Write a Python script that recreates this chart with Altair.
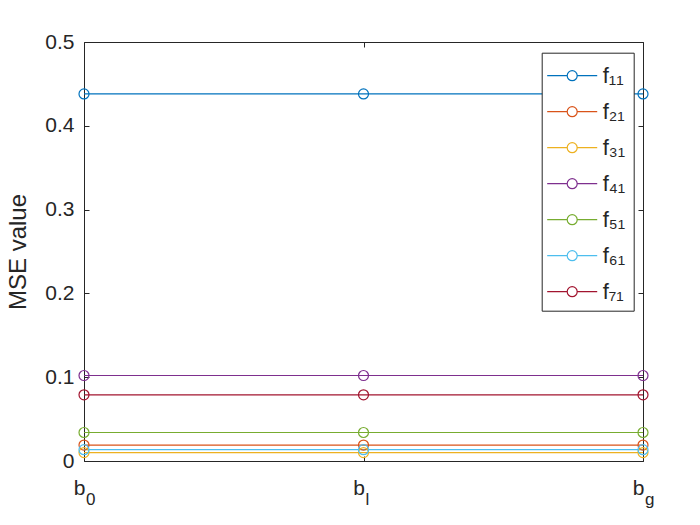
import altair as alt
import pandas as pd

# ---- data ----
categories = ["b0", "bl", "bg"]
cat_sub = ["0", "l", "g"]
series = ["f₁₁", "f₂₁", "f₃₁", "f₄₁", "f₅₁", "f₆₁", "f₇₁"]
colors = ["#0072BD", "#D95319", "#EDB120", "#7E2F8E", "#77AC30", "#4DBEEE", "#A2142F"]
f11 = [0.438, 0.438, 0.438]
f21 = [0.019, 0.019, 0.019]
f31 = [0.010, 0.010, 0.010]
f41 = [0.102, 0.102, 0.102]
f51 = [0.034, 0.034, 0.034]
f61 = [0.0135, 0.0135, 0.0135]
f71 = [0.079, 0.079, 0.079]
values = [f11, f21, f31, f41, f51, f61, f71]
y_ticks = [0, 0.1, 0.2, 0.3, 0.4, 0.5]

rows = []
for name, vals in zip(series, values):
    for c, v in zip(categories, vals):
        rows.append({"cat": c, "series": name, "mse": v})
df = pd.DataFrame(rows)
sub_df = pd.DataFrame({"cat": categories, "sub": cat_sub})

W, H = 559, 419
FONT = "Liberation Sans"
INK = "#262626"

xscale = alt.Scale(domain=categories, padding=0)
yscale = alt.Scale(domain=[0, 0.5], nice=False, zero=False)

legend_path = ("M-1.786,0H-0.357M0.357,0H1.786"
               "M0.357,0A0.357,0.357,0,1,1,-0.357,0A0.357,0.357,0,1,1,0.357,0")

color = alt.Color(
    "series:N",
    scale=alt.Scale(domain=series, range=colors),
    sort=series,
    legend=alt.Legend(
        title=None, orient="none", legendX=457.7, legendY=10.7,
        symbolType=legend_path, symbolSize=784, symbolStrokeWidth=1.2,
        symbolFillColor="transparent", symbolOffset=7.5,
        labelOffset=15.5, labelFontSize=22, labelFont=FONT, labelColor=INK,
        padding=8, rowPadding=10, strokeColor=INK, fillColor="white",
        cornerRadius=0,
    ),
)

base = alt.Chart(df)

lines = base.mark_line(strokeWidth=1.2).encode(
    x=alt.X("cat:N", scale=xscale, sort=categories, title=None,
            axis=alt.Axis(orient="bottom", labelExpr="'b'", labelAngle=0,
                          labelFontSize=21, labelFont=FONT, labelColor=INK,
                          labelPadding=16, labelOffset=-5, tickSize=0,
                          domain=False, grid=False)),
    y=alt.Y("mse:Q", scale=yscale, title="MSE value",
            axis=alt.Axis(orient="left", values=y_ticks, format="~g",
                          labelFontSize=21, labelFont=FONT, labelColor=INK,
                          labelPadding=10, tickSize=0, domain=False, grid=False,
                          titleFontSize=24, titleFont=FONT, titleColor=INK,
                          titleFontWeight="normal", titlePadding=14)),
    color=color,
)

points = base.mark_point(shape="circle", filled=False, size=100, strokeWidth=1.2, opacity=1).encode(
    x=alt.X("cat:N", scale=xscale, sort=categories, title=None,
            axis=alt.Axis(orient="top", offset=-H, labels=False, domain=False,
                          grid=False, tickSize=5, tickColor=INK)),
    y=alt.Y("mse:Q", scale=yscale, title=None,
            axis=alt.Axis(orient="right", offset=-W, values=y_ticks, labels=False,
                          domain=False, grid=False, tickSize=5, tickColor=INK)),
    color=color,
)

ghost = base.mark_point(opacity=0).encode(
    x=alt.X("cat:N", scale=xscale, sort=categories, title=None,
            axis=alt.Axis(orient="bottom", offset=-H, labels=False, domain=False,
                          grid=False, tickSize=5, tickColor=INK)),
    y=alt.Y("mse:Q", scale=yscale, title=None,
            axis=alt.Axis(orient="left", offset=-W, values=y_ticks, labels=False,
                          domain=False, grid=False, tickSize=5, tickColor=INK)),
)

subs = alt.Chart(sub_df).mark_text(
    align="left", baseline="alphabetic", fontSize=17, font=FONT, color=INK, dx=2
).encode(
    x=alt.X("cat:N", scale=xscale, sort=categories, axis=None),
    y=alt.value(H + 44),
    text="sub:N",
)

chart = (
    alt.layer(lines, points, ghost, subs)
    .resolve_axis(x="independent", y="independent")
    .properties(
        width=W, height=H,
        autosize=alt.AutoSizeParams(type="none"),
        padding={"left": 76, "top": 34, "right": 49, "bottom": 56},
        background="white",
    )
    .configure_view(stroke=INK, strokeWidth=1)
)

chart.save("out.html", embed_options={"renderer": "svg", "actions": False})
